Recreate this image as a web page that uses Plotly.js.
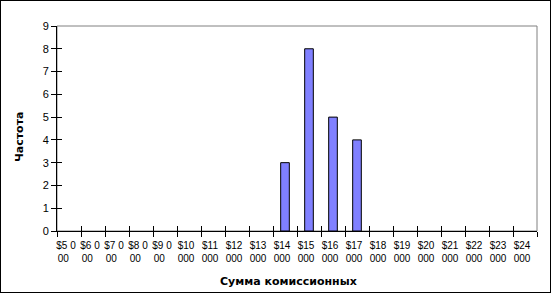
<!DOCTYPE html>
<html>
<head>
<meta charset="utf-8">
<script src="https://cdn.plot.ly/plotly-3.0.1.min.js"></script>
<style>
  html, body { margin: 0; padding: 0; background: #fff; }
  #wrap { width: 551px; height: 293px; box-sizing: border-box; border: 1px solid #000; overflow: hidden; }
  #chart { width: 549px; height: 291px; }
</style>
</head>
<body>
<div id="wrap"><div id="chart"></div></div>
<script>
// Categories (commission amount bins)
const categories = ['$5 000','$6 000','$7 000','$8 000','$9 000','$10 000','$11 000','$12 000','$13 000','$14 000',
                    '$15 000','$16 000','$17 000','$18 000','$19 000','$20 000','$21 000','$22 000','$23 000','$24 000'];
// Frequencies
const frequencies = [0,0,0,0,0,0,0,0,0,3,8,5,4,0,0,0,0,0,0,0];
// Tick labels as wrapped in the picture
const tickLabels = ['$5 0<br>00&nbsp;&nbsp;','$6 0<br>00&nbsp;&nbsp;','$7 0<br>00&nbsp;&nbsp;','$8 0<br>00&nbsp;&nbsp;','$9 0<br>00&nbsp;&nbsp;',
                    '$10<br>000','$11<br>000','$12<br>000','$13<br>000','$14<br>000',
                    '$15<br>000','$16<br>000','$17<br>000','$18<br>000','$19<br>000',
                    '$20<br>000','$21<br>000','$22<br>000','$23<br>000','$24<br>000'];
const yTitle = 'Частота';
const xTitle = 'Сумма комиссионных';

const font = {family: '"Liberation Sans", Arial, sans-serif', size: 10, color: '#000'};

// zero-height bars are not drawn (as in the original)
const plotted = frequencies.map(v => (v === 0 ? null : v));

const traces = [
  {
    type: 'bar',
    x: categories,
    y: plotted,
    marker: {color: '#8080FF', line: {color: '#000', width: 1}},
    hoverinfo: 'x+y'
  },
  { type: 'scatter', x: [], y: [], xaxis: 'x2', yaxis: 'y2', showlegend: false, hoverinfo: 'skip' }
];

const layout = {
  width: 549, height: 291,
  margin: {l: 56, r: 13, t: 25, b: 61},
  paper_bgcolor: '#fff', plot_bgcolor: '#fff',
  font: font,
  showlegend: false,
  bargap: 0.64,
  xaxis: {
    type: 'category',
    tickmode: 'array', tickvals: categories, ticktext: tickLabels,
    tickson: 'boundaries',
    ticks: 'outside', ticklen: 5, tickwidth: 1, tickcolor: '#000',
    showline: true, linecolor: '#000', linewidth: 1,
    showgrid: false, zeroline: false,
    tickangle: 0,
    tickfont: font,
    ticklabelstandoff: 5,
    ticklabelshift: -3,
    range: [-0.5, 19.5]
  },
  yaxis: {
    range: [0, 9], tickmode: 'linear', tick0: 0, dtick: 1,
    ticks: 'outside', ticklen: 5, tickwidth: 1, tickcolor: '#000',
    showline: true, linecolor: '#000', linewidth: 1,
    showgrid: false, zeroline: false,
    tickfont: {family: font.family, size: 11, color: '#000'}
  },
  xaxis2: {
    overlaying: 'x', anchor: 'y2', side: 'bottom',
    range: [-0.5, 19.5], tickmode: 'linear', tick0: -0.5, dtick: 1,
    ticks: 'inside', ticklen: 5, tickwidth: 1, tickcolor: '#000',
    showticklabels: false, showline: false, showgrid: false, zeroline: false
  },
  yaxis2: {
    overlaying: 'y', anchor: 'x2', side: 'left',
    range: [0, 9], tickmode: 'linear', tick0: 0, dtick: 1,
    ticks: 'inside', ticklen: 5, tickwidth: 1, tickcolor: '#000',
    showticklabels: false, showline: false, showgrid: false, zeroline: false
  },
  shapes: [
    {type: 'rect', xref: 'paper', yref: 'paper', x0: 0, x1: 1, y0: 0, y1: 1,
     line: {color: '#808080', width: 1}, layer: 'below'}
  ],
  annotations: [
    {text: '<b>' + xTitle + '</b>', xref: 'paper', yref: 'paper', x: 0.483, y: -0.246,
     showarrow: false, xanchor: 'center', yanchor: 'middle',
     font: {family: '"DejaVu Sans", Verdana, sans-serif', size: 11, color: '#000'}},
    {text: '<b>' + yTitle + '</b>', xref: 'paper', yref: 'paper', x: -0.079, y: 0.4585,
     showarrow: false, xanchor: 'center', yanchor: 'middle', textangle: -90,
     font: {family: '"DejaVu Sans", Verdana, sans-serif', size: 11, color: '#000'}}
  ]
};

Plotly.newPlot('chart', traces, layout, {displayModeBar: false, responsive: false});
</script>
</body>
</html>
